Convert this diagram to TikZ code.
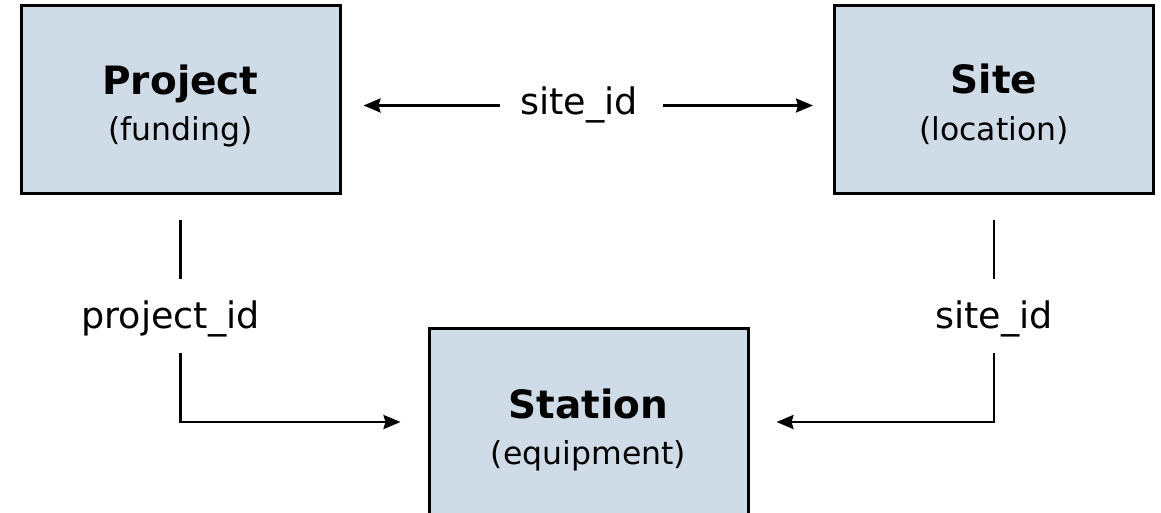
\documentclass[tikz,border=0pt]{standalone}
\usepackage{fontspec}
\setmainfont{DejaVu Sans}
\usetikzlibrary{arrows.meta}
\definecolor{boxfill}{RGB}{207,219,230}
\tikzset{
  box/.style={draw=black, line width=3pt, fill=boxfill, minimum width=319pt, minimum height=188pt, inner sep=0pt},
  ttl/.style={anchor=base, inner sep=0pt, font=\fontsize{39}{42}\selectfont\bfseries},
  sub/.style={anchor=base, inner sep=0pt, font=\fontsize{31.5}{36}\selectfont},
  lbl/.style={anchor=base, inner sep=0pt, text height=28pt, text depth=9pt, font=\fontsize{36.5}{40}\selectfont},
  conn/.style={draw=black, line width=2.4pt},
  arr/.style={conn, -{Stealth[length=17pt, width=14pt, inset=2pt]}}
}
\begin{document}
\begin{tikzpicture}[x=1pt, y=-1pt]
\clip (0,0) rectangle (1161,513);
\fill[white] (0,0) rectangle (1161,513);
% boxes
\node[box] (project) at (180.5,100) {};
\node[box] (site) at (994,100) {};
\node[box] (station) at (588.5,422) {};
% titles
\node[ttl] (projectT) at (180.5,95) {Project};
\node[sub] (projectS) at (180.5,141) {(funding)};
\node[ttl] (siteT) at (994,94) {Site};
\node[sub] (siteS) at (994,141) {(location)};
\node[ttl] (stationT) at (588.5,418) {Station};
\node[sub] (stationS) at (588.5,464) {(equipment)};
% labels
\node[lbl] (toplbl) at (579,115) {site\_id};
\node[lbl] (pjl) at (170.5,328) {project\_id};
\node[lbl] (sil) at (994,328) {site\_id};
% top connectors
\draw[arr, shorten <=20pt, shorten >=22pt] (toplbl.west) -- (toplbl.west -| project.east);
\draw[arr, shorten <=25pt, shorten >=20pt] (toplbl.east) -- (toplbl.east -| site.west);
% left connector
\draw[conn, shorten <=24pt, shorten >=21pt] (project.south) -- (project.south |- pjl.north);
\draw[arr, shorten <=16pt, shorten >=27pt] (pjl.south -| project.south) |- (station.west);
% right connector
\draw[conn, shorten <=24pt, shorten >=21pt] (site.south) -- (site.south |- sil.north);
\draw[arr, shorten <=16pt, shorten >=27pt] (sil.south -| site.south) |- (station.east);
\end{tikzpicture}
\end{document}
